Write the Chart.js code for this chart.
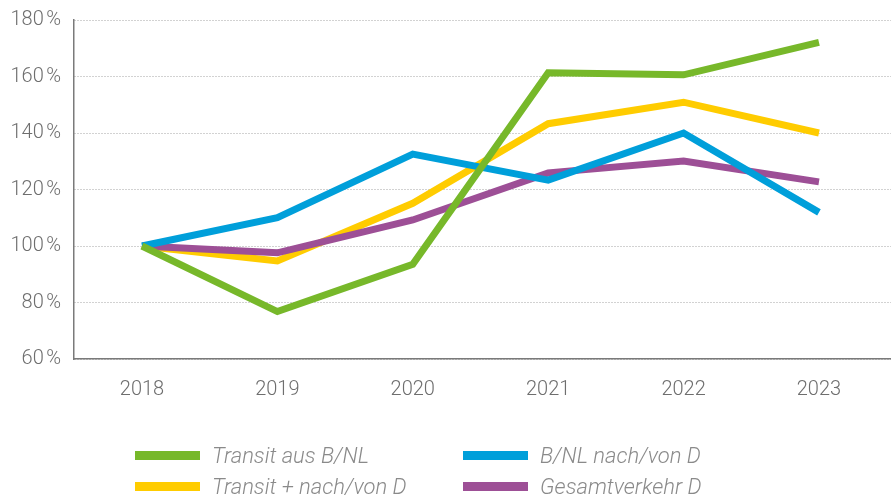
<!DOCTYPE html>
<html>
<head>
<meta charset="utf-8">
<script src="https://cdn.jsdelivr.net/npm/chart.js@4/dist/chart.umd.min.js"></script>
<style>
  html, body { margin: 0; padding: 0; background: #fff; }
  #wrap { position: relative; width: 891px; height: 500px; overflow: hidden; }
  canvas { position: absolute; left: 0; top: 0; }
  .lg-item { position: absolute; height: 30px; }
  .lg-box { position: absolute; left: 0; width: 65px; height: 9px; }
  .lg-text { position: absolute; white-space: nowrap; font-family: Roboto, sans-serif; font-weight: 300; font-style: italic; font-size: 22px; color: #8a8a8a; line-height: 30px; }
</style>
</head>
<body>
<div id="wrap">
  <canvas id="c" width="891" height="500"></canvas>
  <div id="legend"></div>
</div>
<script>
// ---- data ----
const years = [2018, 2019, 2020, 2021, 2022, 2023];
const seriesNames = ["Transit aus B/NL", "B/NL nach/von D", "Transit + nach/von D", "Gesamtverkehr D"];
const transitAusBNL      = [100, 76.8, 93.5, 161.3, 160.6, 172.1];
const bnlNachVonD        = [100, 110.0, 132.5, 123.3, 140.0, 111.9];
const transitPlusNachVon = [100, 94.7, 115.1, 143.3, 150.9, 140.0];
const gesamtverkehrD     = [100, 97.6, 109.2, 125.9, 130.1, 122.7];
const yTicks = [60, 80, 100, 120, 140, 160, 180];

// ---- styles ----
const colors = {
  green: "#77b82a",
  blue: "#009fda",
  yellow: "#ffcc00",
  purple: "#9d4f96"
};

function pts(arr) { return years.map((y, i) => ({ x: y, y: arr[i] })); }
function ds(label, arr, color) {
  return {
    label: label,
    data: pts(arr),
    borderColor: color,
    backgroundColor: color,
    borderWidth: 7,
    borderCapStyle: "butt",
    borderJoinStyle: "miter",
    pointRadius: 0,
    pointHoverRadius: 0,
    tension: 0,
    fill: false
  };
}

// index 0 is drawn on top
const datasets = [
  ds(seriesNames[0], transitAusBNL, colors.green),
  ds(seriesNames[1], bnlNachVonD, colors.blue),
  ds(seriesNames[3], gesamtverkehrD, colors.purple),
  ds(seriesNames[2], transitPlusNachVon, colors.yellow)
];

const tickFont = { family: "Roboto, sans-serif", size: 20, weight: "300" };

new Chart(document.getElementById("c"), {
  type: "line",
  data: { datasets: datasets },
  options: {
    responsive: false,
    devicePixelRatio: 1,
    animation: false,
    events: [],
    layout: { padding: { top: 20, right: 0, bottom: 0, left: 0 } },
    plugins: { legend: { display: false }, tooltip: { enabled: false } },
    scales: {
      x: {
        type: "linear",
        min: 2017.498,
        max: 2023.532,
        afterFit: (s) => { s.height = 141; s.paddingLeft = 0; s.paddingRight = 0; },
        afterBuildTicks: (s) => { s.ticks = years.map(v => ({ value: v })); },
        grid: { display: false, drawTicks: false },
        border: { display: true, color: "#7a7a7a", width: 1.5 },
        ticks: {
          font: tickFont,
          color: "#6e6e6e",
          padding: 19,
          autoSkip: false,
          maxRotation: 0,
          callback: (v) => String(v)
        }
      },
      y: {
        type: "linear",
        min: 60,
        max: 180,
        afterFit: (s) => { s.width = 74; s.paddingTop = 0; s.paddingBottom = 0; },
        afterBuildTicks: (s) => { s.ticks = yTicks.map(v => ({ value: v })); },
        grid: { color: "#a5a5a5", lineWidth: 1, drawTicks: false },
        border: { display: true, color: "#7a7a7a", width: 1.5, dash: [1, 2] },
        ticks: {
          font: tickFont,
          color: "#6e6e6e",
          padding: 13,
          callback: (v) => v + "\u202F%"
        }
      }
    }
  }
});

// ---- legend (two columns) ----
const legendItems = [
  { name: seriesNames[0], color: colors.green,  x: 135, y: 455.5 },
  { name: seriesNames[1], color: colors.blue,   x: 463, y: 455.5 },
  { name: seriesNames[2], color: colors.yellow, x: 135, y: 486.5 },
  { name: seriesNames[3], color: colors.purple, x: 463, y: 486.5 }
];
const lg = document.getElementById("legend");
legendItems.forEach(it => {
  const d = document.createElement("div");
  d.className = "lg-item";
  d.style.left = it.x + "px";
  d.style.top = (it.y - 15) + "px";
  const b = document.createElement("div");
  b.className = "lg-box";
  b.style.background = it.color;
  b.style.top = "10.5px";
  const t = document.createElement("div");
  t.className = "lg-text";
  t.style.left = "77px";
  t.style.top = "0px";
  t.textContent = it.name;
  d.appendChild(b);
  d.appendChild(t);
  lg.appendChild(d);
});
</script>
</body>
</html>
